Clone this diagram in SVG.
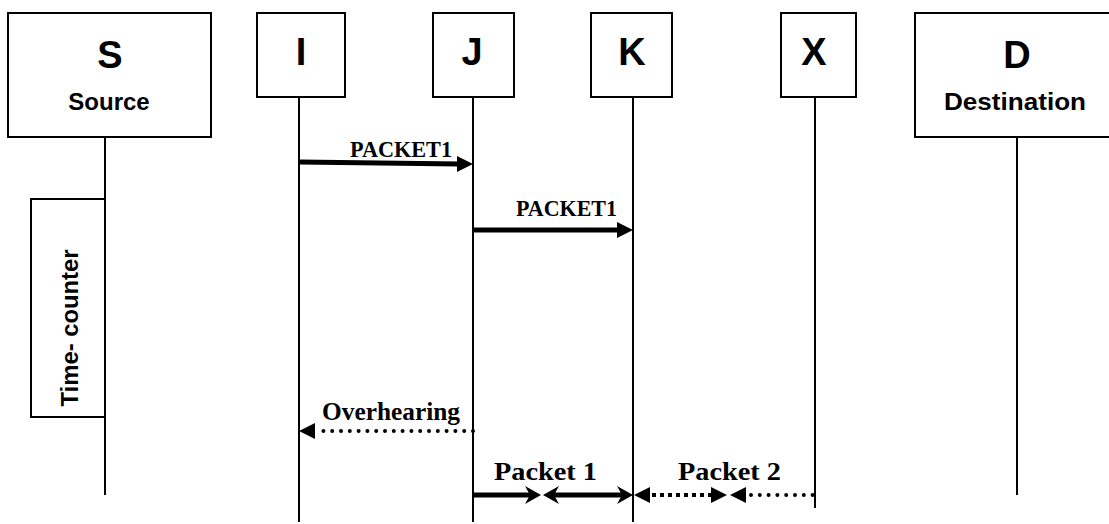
<svg xmlns="http://www.w3.org/2000/svg" width="1109" height="524" viewBox="0 0 1109 524">
  <style>
    .box { fill: #fff; stroke: #000; stroke-width: 2; }
    .life { stroke: #000; stroke-width: 2; fill: none; }
    .big { font-family: "Liberation Sans", Arial, sans-serif; font-weight: bold; font-size: 38px; text-anchor: middle; fill: #000; }
    .sub { font-family: "Liberation Sans", Arial, sans-serif; font-weight: bold; font-size: 24px; text-anchor: middle; fill: #000; }
    .lbl { font-family: "Liberation Serif", "Times New Roman", serif; font-weight: bold; fill: #000; }
    .solid { stroke: #000; stroke-width: 5; fill: none; }
    .dots { stroke: #000; stroke-width: 4; fill: none; stroke-linecap: round; stroke-dasharray: 0 8.8; }
    .dots2 { stroke: #000; stroke-width: 4; fill: none; stroke-dasharray: 4 4; }
    .head { fill: #000; stroke: none; }
  </style>
  <defs>
    <!-- filled triangle pointing right, tip at origin -->
    <path id="tri" d="M0,0 L-16,-8 L-16,8 Z"/>
    <!-- notched (stealth) head pointing right, tip at origin -->
    <path id="stealth" d="M0,0 L-16,-9 L-11,0 L-16,9 Z"/>
  </defs>

  <rect width="1109" height="524" fill="#fff"/>

  <!-- lifelines -->
  <g id="lifelines">
    <line class="life" x1="105" y1="137" x2="105" y2="495"/>
    <line class="life" x1="299" y1="97" x2="299" y2="522"/>
    <line class="life" x1="473" y1="97" x2="473" y2="522"/>
    <line class="life" x1="633" y1="97" x2="633" y2="522"/>
    <line class="life" x1="815" y1="97" x2="815" y2="508"/>
    <line class="life" x1="1017" y1="137" x2="1017" y2="495"/>
  </g>

  <g id="node-S">
    <rect class="box" x="8" y="13" width="203" height="124"/>
    <text class="big" x="110" y="68">S</text>
    <text class="sub" x="109" y="110">Source</text>
  </g>
  <g id="node-I">
    <rect class="box" x="257" y="13" width="88" height="84"/>
    <text class="big" x="301" y="65">I</text>
  </g>
  <g id="node-J">
    <rect class="box" x="433" y="13" width="81" height="84"/>
    <text class="big" x="472" y="65">J</text>
  </g>
  <g id="node-K">
    <rect class="box" x="591" y="13" width="81" height="84"/>
    <text class="big" x="632" y="65">K</text>
  </g>
  <g id="node-X">
    <rect class="box" x="781" y="13" width="75" height="84"/>
    <text class="big" x="814" y="65">X</text>
  </g>
  <g id="node-D">
    <rect class="box" x="915" y="13" width="210" height="124"/>
    <text class="big" x="1017" y="68">D</text>
    <text class="sub" x="1015" y="110" textLength="142" lengthAdjust="spacingAndGlyphs">Destination</text>
  </g>

  <g id="time-counter">
    <rect class="box" x="31" y="199" width="74" height="218"/>
    <text class="sub" transform="translate(78,328) rotate(-90)" textLength="157" lengthAdjust="spacingAndGlyphs">Time- counter</text>
  </g>

  <g id="connectors">
    <!-- I to J -->
    <line class="solid" x1="299" y1="162" x2="460" y2="164"/>
    <use href="#tri" class="head" transform="translate(473,164)"/>
    <text class="lbl" x="350" y="157" font-size="23" textLength="102" lengthAdjust="spacingAndGlyphs">PACKET1</text>

    <!-- J to K -->
    <line class="solid" x1="473" y1="230" x2="620" y2="230"/>
    <use href="#tri" class="head" transform="translate(633,230)"/>
    <text class="lbl" x="516" y="216" font-size="23" textLength="101" lengthAdjust="spacingAndGlyphs">PACKET1</text>

    <!-- overhearing J to I -->
    <line class="dots" x1="473" y1="431" x2="318" y2="431"/>
    <use href="#tri" class="head" transform="translate(299,431) rotate(180)"/>
    <text class="lbl" x="322" y="420" font-size="25" textLength="138" lengthAdjust="spacingAndGlyphs">Overhearing</text>

    <!-- Packet 1 -->
    <line class="solid" x1="473" y1="495" x2="530" y2="495"/>
    <use href="#stealth" class="head" transform="translate(541,495)"/>
    <line class="solid" x1="552" y1="495" x2="622" y2="495"/>
    <use href="#stealth" class="head" transform="translate(543,495) rotate(180)"/>
    <use href="#stealth" class="head" transform="translate(633,495)"/>
    <text class="lbl" x="494" y="480" font-size="26" textLength="103" lengthAdjust="spacingAndGlyphs">Packet 1</text>

    <!-- Packet 2 -->
    <use href="#tri" class="head" transform="translate(634,495) rotate(180)"/>
    <line class="dots2" x1="652" y1="495" x2="712" y2="495"/>
    <use href="#tri" class="head" transform="translate(727,495)"/>
    <use href="#tri" class="head" transform="translate(730,495) rotate(180)"/>
    <line class="dots" x1="751" y1="495" x2="815" y2="495"/>
    <text class="lbl" x="678" y="480" font-size="26" textLength="103" lengthAdjust="spacingAndGlyphs">Packet 2</text>
  </g>
</svg>
